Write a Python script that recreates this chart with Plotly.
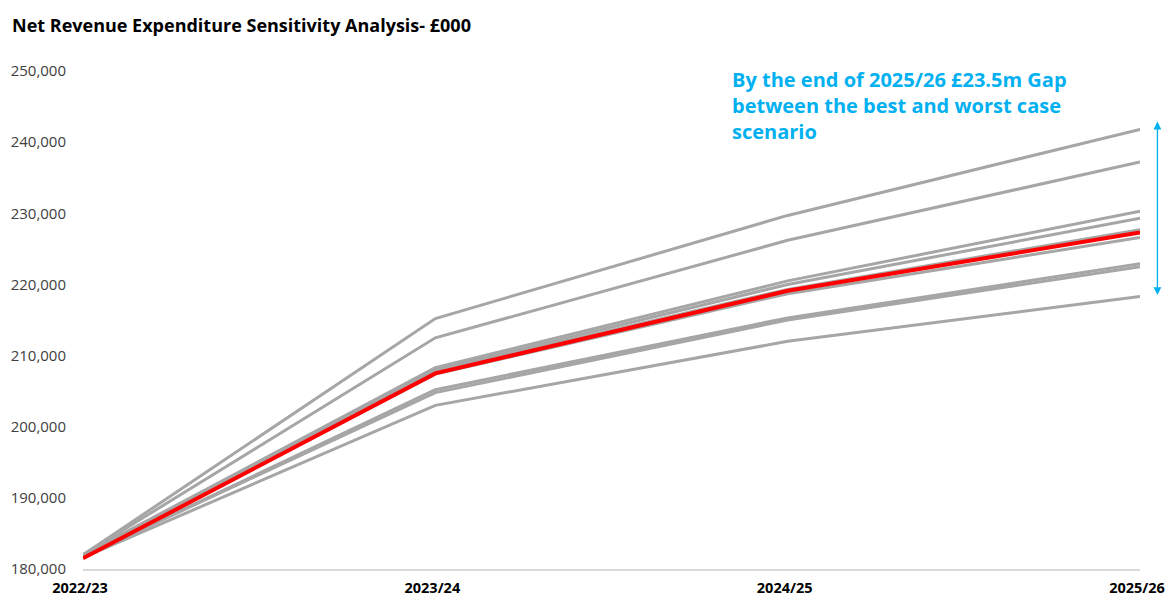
import plotly.graph_objects as go

years = ["2022/23", "2023/24", "2024/25", "2025/26"]

scenario_a = [182000, 215200, 229700, 241800]
scenario_b = [182000, 212500, 226200, 237200]
scenario_c = [182000, 208300, 220500, 230300]
scenario_d = [181900, 208000, 220000, 229300]
scenario_e = [181800, 207800, 219300, 227700]
scenario_f = [181800, 207400, 218700, 226600]
scenario_g = [181700, 205200, 215300, 222900]
scenario_h = [181700, 204800, 215000, 222500]
scenario_i = [181600, 203000, 212000, 218300]
base_case = [181500, 207500, 219100, 227300]

grey_series = [scenario_a, scenario_b, scenario_c, scenario_d, scenario_e,
               scenario_f, scenario_g, scenario_h, scenario_i]

y_ticks = [180000, 190000, 200000, 210000, 220000, 230000, 240000, 250000]

FONT = "Open Sans"

fig = go.Figure()
for s in grey_series:
    fig.add_trace(go.Scatter(x=years, y=s, mode="lines",
                             line=dict(color="#A6A6A6", width=3),
                             showlegend=False, hoverinfo="skip"))
fig.add_trace(go.Scatter(x=years, y=base_case, mode="lines",
                         line=dict(color="#FF0000", width=4),
                         showlegend=False))

fig.update_layout(
    width=1166, height=591,
    margin=dict(l=75, r=34, t=63, b=30),
    plot_bgcolor="white", paper_bgcolor="white",
    font=dict(family=FONT, color="#404040"),
    xaxis=dict(type="category", showgrid=False, showline=True,
               linecolor="#D9D9D9", linewidth=1.5, ticks="",
               tickfont=dict(family=FONT, size=14.5, color="#000000", weight="bold"),
               range=[0, 3], zeroline=False, ticklabelstandoff=5,
               ticklabelshift=-3, automargin=False),
    yaxis=dict(range=[180000, 250000], tickvals=y_ticks, tickformat=",",
               showgrid=False, zeroline=False, showline=False,
               tickfont=dict(family=FONT, size=15, color="#404040"),
               ticklabelstandoff=16, automargin=False),
)

fig.add_annotation(
    xref="paper", yref="paper", x=-0.069, y=1.0924, xanchor="left", yanchor="middle",
    text="<b>Net Revenue Expenditure Sensitivity Analysis- £000</b>",
    showarrow=False, align="left",
    font=dict(family=FONT, size=18, color="#000000"))

fig.add_annotation(
    xref="paper", yref="paper", x=0.612, y=1.015, xanchor="left", yanchor="top",
    text="<b>By the end of 2025/26 £23.5m Gap<br>between the best and worst case<br>scenario</b>",
    showarrow=False, align="left",
    font=dict(family=FONT, size=20, color="#00B0F0"))

fig.add_annotation(
    xref="x domain", yref="y", x=1.0165, y=218500, ax=1.0165, ay=243100,
    axref="x domain", ayref="y", text="", showarrow=True,
    arrowhead=2, startarrowhead=2, arrowside="end+start",
    arrowcolor="#00B0F0", arrowwidth=1.3, arrowsize=1.2, startarrowsize=1.2)

fig.write_html("out.html")
